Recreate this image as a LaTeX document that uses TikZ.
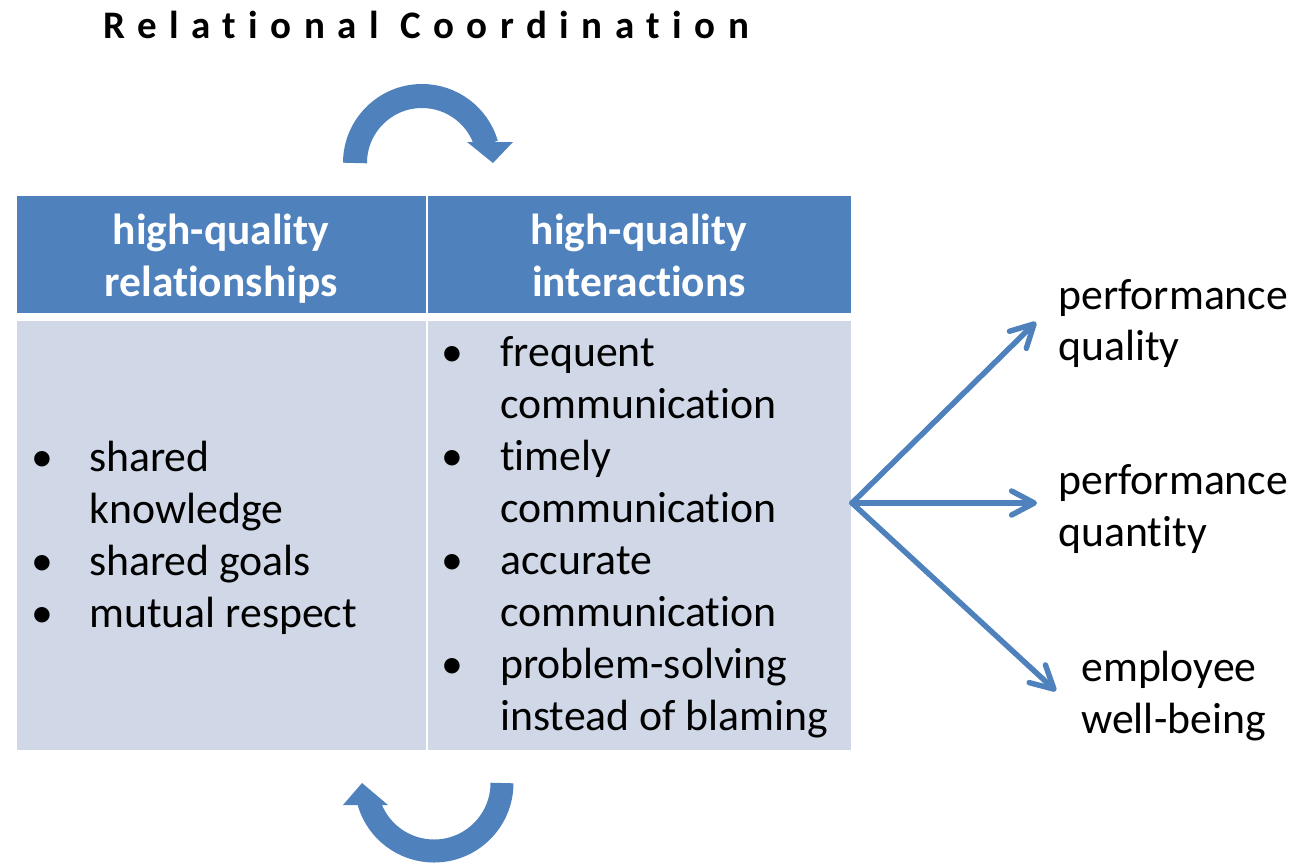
\documentclass[tikz,border=0pt]{standalone}
\usepackage{fontspec}
\setmainfont{Carlito}[Ligatures=NoCommon]
\newfontfamily\titlefont[LetterSpace=32,Ligatures=NoCommon]{Carlito}
\usetikzlibrary{arrows.meta}
\definecolor{rcblue}{HTML}{4F81BD}
\definecolor{rcpale}{HTML}{D0D8E8}
\begin{document}
\begin{tikzpicture}[x=0.75pt,y=-0.75pt,
  cell/.style={anchor=north west, inner sep=0, outer sep=0, draw=none},
  hdrcell/.style={cell, fill=rcblue, minimum height=87.75pt},
  bodycell/.style={cell, fill=rcpale, minimum height=321.75pt},
  txt/.style={anchor=base west, inner sep=0, font=\fontsize{32.8pt}{39pt}\selectfont},
  bul/.style={anchor=base, inner sep=0, font=\fontsize{32.8pt}{39pt}\selectfont},
  hdr/.style={anchor=base, inner sep=0, text=white, font=\fontsize{32.6pt}{39pt}\selectfont\bfseries},
  turn/.style={draw=rcblue, line cap=butt},
  fanarrow/.style={draw=rcblue, line width=4.1pt, line cap=round,
    -{Straight Barb[length=17pt,width=18pt,line cap=round,line join=round]}}
]
\useasboundingbox (0,0) rectangle (1309,865);

% title
\node[anchor=base west, inner sep=0, font=\titlefont\fontsize{29.25pt}{35pt}\selectfont\bfseries] (title) at (103,38) {Relational Coordination};

% table cells
\node[hdrcell, minimum width=306.75pt] (h1) at (17,196) {};
\node[hdrcell, minimum width=317.25pt] (h2) at (428,196) {};
\node[bodycell, minimum width=306.75pt] (b1) at (17,321) {};
\node[bodycell, minimum width=317.25pt] (b2) at (428,321) {};

% headers
\node[hdr] (h1a) at (221,244) {high-quality};
\node[hdr] (h1b) at (221,296) {relationships};
\node[hdr] (h2a) at (639,244) {high-quality};
\node[hdr] (h2b) at (639,296) {interactions};

% left list
\node[bul] (lb1) at (42,471) {•};
\node[txt] (l1a) at (89,471) {shared};
\node[txt] (l1b) at (89,523) {knowledge};
\node[bul] (lb2) at (42,575) {•};
\node[txt] (l2) at (89,575) {shared goals};
\node[bul] (lb3) at (42,627) {•};
\node[txt] (l3) at (89,627) {mutual respect};

% right list
\node[bul] (rb1) at (452,366) {•};
\node[txt] (r1a) at (500,366) {frequent};
\node[txt] (r1b) at (500,418) {communication};
\node[bul] (rb2) at (452,470) {•};
\node[txt] (r2a) at (500,470) {timely};
\node[txt] (r2b) at (500,522) {communication};
\node[bul] (rb3) at (452,574) {•};
\node[txt] (r3a) at (500,574) {accurate};
\node[txt] (r3b) at (500,626) {communication};
\node[bul] (rb4) at (452,678) {•};
\node[txt] (r4a) at (500,678) {problem-solving};
\node[txt] (r4b) at (500,730) {instead of blaming};

% outcomes
\node[txt] (o1a) at (1058,309) {performance};
\node[txt] (o1b) at (1058,360) {quality};
\node[txt] (o2a) at (1058,494) {performance};
\node[txt] (o2b) at (1058,546) {quantity};
\node[txt] (o3a) at (1081,681) {employee};
\node[txt] (o3b) at (1081,733) {well-being};

% fan of outcome arrows
\coordinate (hub) at (852,503);
\coordinate (t1) at (1036,322);
\coordinate (t2) at (1037,503);
\coordinate (t3) at (1056,691);
\draw[fanarrow] (hub) -- (t1);
\draw[fanarrow] (hub) -- (t2);
\draw[fanarrow] (hub) -- (t3);

% cycle arrow above the table
\draw[turn, line width=18pt] (355,163) arc[start angle=180, end angle=344, radius=67];
\fill[rcblue] (467,142) -- (513,142) -- (493,163) -- cycle;

% cycle arrow below the table
\draw[turn, line width=17.25pt] (502,783) arc[start angle=0, end angle=164, radius=68];
\fill[rcblue] (343,805) -- (388,805) -- (362,783) -- cycle;
\end{tikzpicture}
\end{document}
